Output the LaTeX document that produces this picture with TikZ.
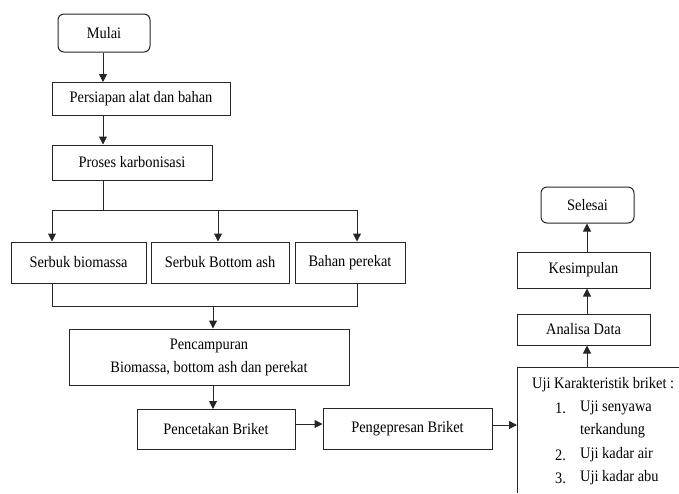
\documentclass[tikz,border=0pt]{standalone}
\usepackage{fontspec}
\setmainfont{Liberation Serif}[FakeStretch=0.9]
\usetikzlibrary{arrows.meta}
\begin{document}
\begin{tikzpicture}[x=1pt,y=-1pt,
  every node/.style={font=\fontsize{16}{23}\selectfont, text=black},
  box/.style={draw=black!85, line width=1pt, inner sep=0pt, minimum width=#1, align=center},
  rbox/.style={box=#1, rounded corners=6pt},
  ln/.style={draw=black!85, line width=1pt},
  arr/.style={ln, -{Triangle[length=8pt,width=8pt]}},
  lbl/.style={inner sep=0pt, anchor=west}
]
\useasboundingbox (0,0) rectangle (679,493);
% left column
\node[rbox=92pt, minimum height=38pt] (mulai) at (104,33) {Mulai};
\node[box=178pt, minimum height=33pt] (persiapan) at (141,99) {Persiapan alat dan bahan};
\node[box=160pt, minimum height=35pt] (proses) at (132,162.5) {Proses karbonisasi};
\node[box=135pt, minimum height=41pt] (sbio) at (78.5,262.5) {Serbuk biomassa};
\node[box=138pt, minimum height=41pt] (sbot) at (220,262.5) {Serbuk Bottom ash};
\node[box=110pt, minimum height=41pt] (bahan) at (350,262.5) {Bahan perekat};
\node[box=280pt, minimum height=56pt] (campur) at (209,357) {Pencampuran\\Biomassa, bottom ash dan perekat};
\node[box=158pt, minimum height=40pt] (cetak) at (216,429.5) {Pencetakan Briket};
\node[box=169pt, minimum height=41pt] (press) at (407.5,428.5) {Pengepresan Briket};
% right column
\node[rbox=93pt, minimum height=36pt] (selesai) at (587.5,205) {Selesai};
\node[box=133pt, minimum height=36pt] (kesimpulan) at (583.5,270) {Kesimpulan};
\node[box=133pt, minimum height=31pt] (analisa) at (583.5,329.5) {Analisa Data};
% Uji box (cut off at the right and bottom)
\coordinate (ujiTL) at (517,367);
\coordinate (ujiBL) at (517,493);
\coordinate (ujiTR) at (679,367);
\coordinate (ujitop) at (587,367);
\coordinate (ujiin) at (517,425);
\draw[ln] (ujiBL) -- (ujiTL) -- (ujiTR);
\node[lbl] (u0) at (532,385) {Uji Karakteristik briket :};
\node[lbl] (n1) at (555,408) {1.};
\node[lbl] (u1) at (580,408) {Uji senyawa};
\node[lbl] (u1b) at (580,431) {terkandung};
\node[lbl] (n2) at (555,455) {2.};
\node[lbl] (u2) at (580,455) {Uji kadar air};
\node[lbl] (n3) at (555,478) {3.};
\node[lbl] (u3) at (580,478) {Uji kadar abu};
% connectors
\draw[arr] (103,0 |- mulai.south) -- (103,0 |- persiapan.north);
\draw[arr] (103,0 |- persiapan.south) -- (103,0 |- proses.north);
\coordinate (split) at (103,210);
\draw[ln] (103,0 |- proses.south) -- (split);
\coordinate (splitL) at (52,210);
\coordinate (splitR) at (357,210);
\draw[ln] (splitL) -- (splitR);
\draw[arr] (splitL) -- (52,0 |- sbio.north);
\draw[arr] (218,210) -- (218,0 |- sbot.north);
\draw[arr] (splitR) -- (357,0 |- bahan.north);
\coordinate (mergeL) at (52,306);
\coordinate (mergeR) at (357,306);
\draw[ln] (52,0 |- sbio.south) -- (mergeL) -- (mergeR) -- (357,0 |- bahan.south);
\draw[arr] (213,306) -- (213,0 |- campur.north);
\draw[arr] (213,0 |- campur.south) -- (213,0 |- cetak.north);
\draw[arr] (cetak.east |- 0,424) -- (press.west |- 0,424);
\draw[arr] (press.east |- ujiin) -- (ujiin);
\draw[arr] (ujitop) -- (ujitop |- analisa.south);
\draw[arr] (587,0 |- analisa.north) -- (587,0 |- kesimpulan.south);
\draw[arr] (587,0 |- kesimpulan.north) -- (587,0 |- selesai.south);
\end{tikzpicture}
\end{document}
